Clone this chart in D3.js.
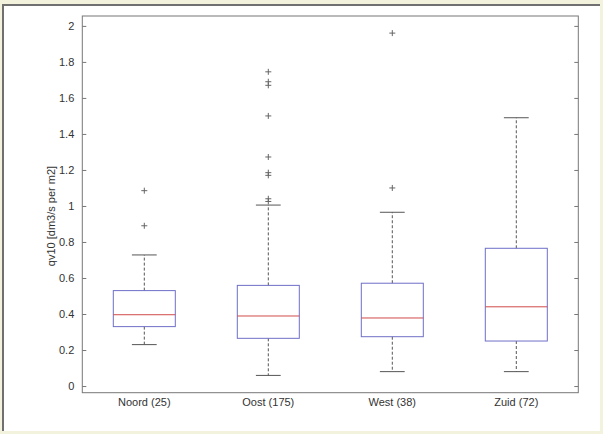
<!DOCTYPE html>
<html>
<head>
<meta charset="utf-8">
<script src="https://cdn.jsdelivr.net/npm/d3@7"></script>
<style>
  html, body { margin: 0; padding: 0; background: #f3f3dd; }
  svg { display: block; }
  text { font-family: "Liberation Sans", Arial, sans-serif; fill: #333; }
</style>
</head>
<body>
<svg id="chart" width="603" height="434"></svg>
<script>
// ---- data ----
const categories = ["Noord (25)", "Oost (175)", "West (38)", "Zuid (72)"];
const q1 =        [0.33, 0.265, 0.274, 0.25];
const medians =   [0.396, 0.389, 0.378, 0.44];
const q3 =        [0.53, 0.559, 0.571, 0.765];
const whiskLow =  [0.23, 0.059, 0.08, 0.08];
const whiskHigh = [0.728, 1.005, 0.965, 1.49];
const outliers = [
  [0.89, 1.085],
  [1.025, 1.04, 1.17, 1.185, 1.272, 1.50, 1.67, 1.69, 1.745],
  [1.10, 1.96],
  []
];
const yTicks = [0, 0.2, 0.4, 0.6, 0.8, 1, 1.2, 1.4, 1.6, 1.8, 2];
const yLabel = "qv10 [dm3/s per m2]";

// ---- layout ----
const svg = d3.select("#chart");
const mLeft = 82.3, mRight = 578.3, mTop = 16, mBottom = 392.7;

// outer panel
svg.append("rect").attr("x", 3).attr("y", 5).attr("width", 597).attr("height", 426)
  .attr("fill", "#ffffff");
svg.append("path").attr("d", "M3,431 V5 H600").attr("fill", "none")
  .attr("stroke", "#707070").attr("stroke-width", 2);

const x = d3.scaleBand().domain(categories).range([mLeft, mRight]).paddingInner(0).paddingOuter(0);
const y = d3.scaleLinear().domain([-0.037, 2.055]).range([mBottom, mTop]);
const bw = x.bandwidth();
const boxW = bw * 0.5;
const capW = bw * 0.2;

// frame
svg.append("rect").attr("x", mLeft).attr("y", mTop).attr("width", mRight - mLeft).attr("height", mBottom - mTop)
  .attr("fill", "none").attr("stroke", "#777").attr("stroke-width", 1);

// left axis (ticks inward)
const yAxisL = d3.axisLeft(y).tickValues(yTicks).tickSizeInner(-4).tickSizeOuter(0)
  .tickPadding(8).tickFormat(d3.format("~g"));
const gL = svg.append("g").attr("transform", `translate(${mLeft},0)`).call(yAxisL);
gL.select(".domain").remove();
gL.selectAll(".tick line").attr("stroke", "#777");
gL.selectAll(".tick text").style("font-size", "11px").attr("fill", "#333")
  .style("font-family", '"Liberation Sans", Arial, sans-serif');

// right axis ticks inward
const yAxisR = d3.axisRight(y).tickValues(yTicks).tickSizeInner(-4).tickSizeOuter(0).tickFormat("");
const gR = svg.append("g").attr("transform", `translate(${mRight},0)`).call(yAxisR);
gR.select(".domain").remove();
gR.selectAll(".tick line").attr("stroke", "#777");

// x labels
svg.append("g").selectAll("text").data(categories).join("text")
  .attr("x", d => x(d) + bw / 2).attr("y", mBottom + 13)
  .attr("text-anchor", "middle").style("font-size", "11px").text(d => d);

// y label
svg.append("text").attr("transform", `translate(51,216) rotate(-90)`)
  .attr("text-anchor", "middle").attr("dy", "0.35em").style("font-size", "11px").text(yLabel);

// boxes
const boxColor = "#6f6fc8", medColor = "#d24a4a", whiskColor = "#555";
categories.forEach((c, i) => {
  const cx = x(c) + bw / 2;
  const g = svg.append("g");
  g.append("line").attr("x1", cx).attr("x2", cx).attr("y1", y(q3[i])).attr("y2", y(whiskHigh[i]))
    .attr("stroke", whiskColor).attr("stroke-dasharray", "3,2");
  g.append("line").attr("x1", cx).attr("x2", cx).attr("y1", y(q1[i])).attr("y2", y(whiskLow[i]))
    .attr("stroke", whiskColor).attr("stroke-dasharray", "3,2");
  [whiskHigh[i], whiskLow[i]].forEach(v => {
    g.append("line").attr("x1", cx - capW / 2).attr("x2", cx + capW / 2)
      .attr("y1", y(v)).attr("y2", y(v)).attr("stroke", whiskColor);
  });
  g.append("rect").attr("x", cx - boxW / 2).attr("width", boxW)
    .attr("y", y(q3[i])).attr("height", y(q1[i]) - y(q3[i]))
    .attr("fill", "none").attr("stroke", boxColor);
  g.append("line").attr("x1", cx - boxW / 2).attr("x2", cx + boxW / 2)
    .attr("y1", y(medians[i])).attr("y2", y(medians[i])).attr("stroke", medColor);
  outliers[i].forEach(v => {
    const yy = y(v), s = 3;
    g.append("path").attr("d", `M${cx - s},${yy} H${cx + s} M${cx},${yy - s} V${yy + s}`)
      .attr("stroke", "#666").attr("fill", "none");
  });
});
</script>
</body>
</html>
